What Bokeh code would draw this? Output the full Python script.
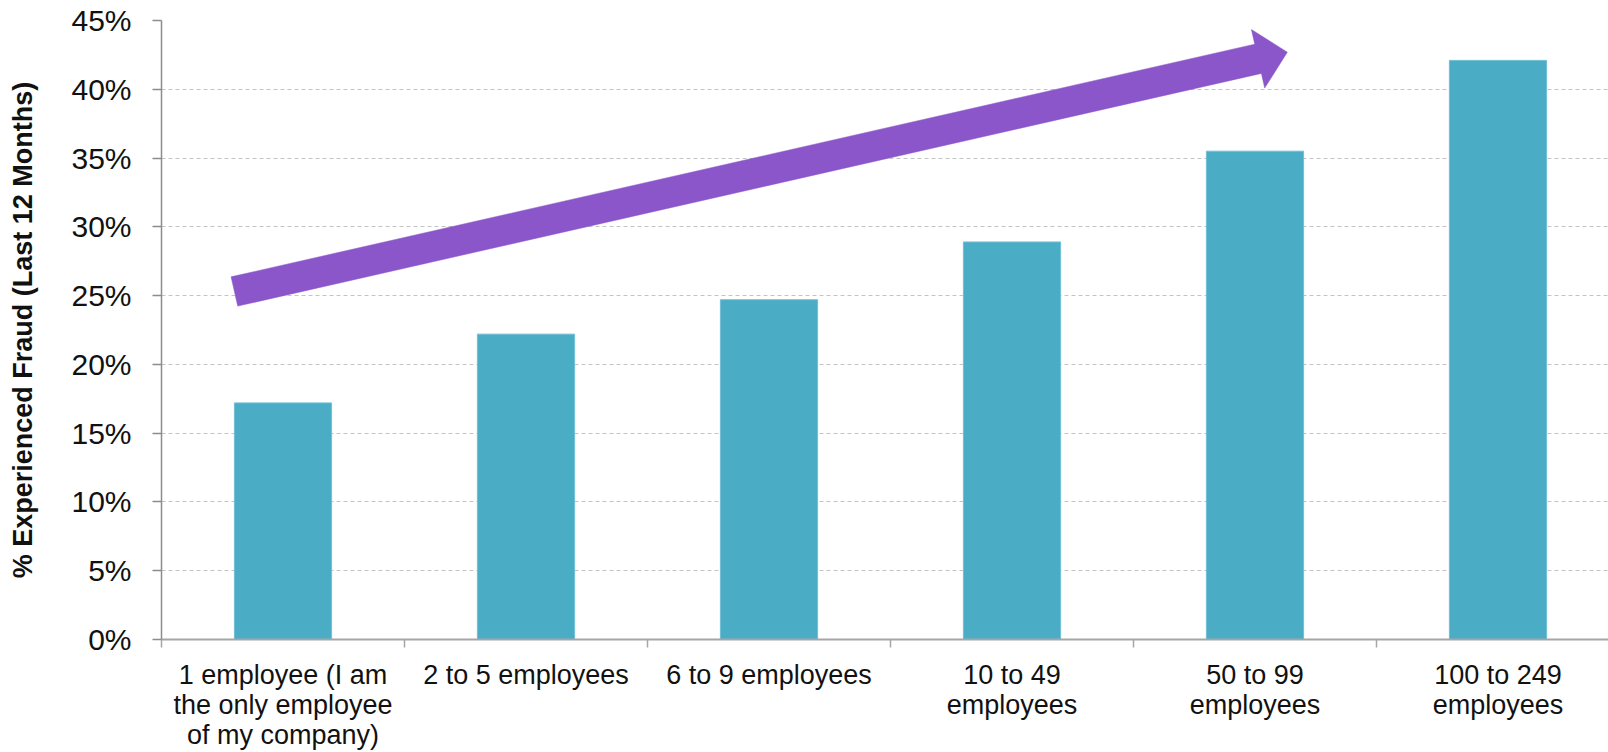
from bokeh.plotting import figure
from bokeh.models import Range1d, FixedTicker
from bokeh.embed import file_html
from bokeh.resources import INLINE
import math

# ---- data ----
categories = [
    "1 employee (I am\nthe only employee\nof my company)",
    "2 to 5 employees",
    "6 to 9 employees",
    "10 to 49\nemployees",
    "50 to 99\nemployees",
    "100 to 249\nemployees",
]
fraud_pct = [17.2, 22.2, 24.7, 28.9, 35.5, 42.1]
y_ticks = [0, 5, 10, 15, 20, 25, 30, 35, 40, 45]
y_title = "% Experienced Fraud (Last 12 Months)"

# trend arrow (data units: category index, percent)
arrow_tail = (0.30, 25.3)
arrow_tip = (4.633, 42.7)

# ---- layout ----
W, H = 1608, 752
LEFT, RIGHT, TOP, BOTTOM = 161, 0, 20, 113
FRAME_W = W - LEFT - RIGHT
FRAME_H = H - TOP - BOTTOM
CAT_PX = 243.0
X_END = FRAME_W / CAT_PX
Y_MAX = 45

FONT = "Liberation Sans"
TEXT_COLOR = "#111111"

p = figure(width=W, height=H, output_backend="svg", toolbar_location=None,
           x_range=Range1d(0, X_END), y_range=Range1d(0, Y_MAX),
           min_border_left=LEFT, min_border_right=RIGHT,
           min_border_top=TOP, min_border_bottom=BOTTOM)
p.outline_line_color = None
p.background_fill_color = "white"
p.border_fill_color = "white"

centers = [i + 0.5 for i in range(len(categories))]
p.vbar(x=centers, top=fraud_pct, width=0.4, bottom=0,
       fill_color="#4BACC6", line_color="#6FBFD5", line_width=1)

# arrow polygon
sx = FRAME_W / X_END
sy = FRAME_H / Y_MAX
tx, ty = arrow_tail[0] * sx, arrow_tail[1] * sy
hx, hy = arrow_tip[0] * sx, arrow_tip[1] * sy
L = math.hypot(hx - tx, hy - ty)
ux, uy = (hx - tx) / L, (hy - ty) / L
nx, ny = -uy, ux
hw, HW, HL = 15.0, 30.0, 30.0
bx, by = hx - ux * HL, hy - uy * HL
pts = [
    (tx + nx * hw, ty + ny * hw),
    (bx + nx * hw, by + ny * hw),
    (bx + nx * HW, by + ny * HW),
    (hx, hy),
    (bx - nx * HW, by - ny * HW),
    (bx - nx * hw, by - ny * hw),
    (tx - nx * hw, ty - ny * hw),
]
p.patch([q[0] / sx for q in pts], [q[1] / sy for q in pts],
        fill_color="#8A56CA", line_color="#8A56CA", line_width=0.5)

# grid
p.xgrid.visible = False
p.ygrid.ticker = FixedTicker(ticks=y_ticks)
p.ygrid.grid_line_color = "#C4C4C4"
p.ygrid.grid_line_dash = "4 3"
p.ygrid.grid_line_width = 1

# y axis
p.yaxis.ticker = FixedTicker(ticks=y_ticks)
p.yaxis.major_label_overrides = {t: f"{t}%" for t in y_ticks}
p.yaxis.major_label_text_font = FONT
p.yaxis.major_label_text_font_size = "30px"
p.yaxis.major_label_text_color = TEXT_COLOR
p.yaxis.major_label_standoff = 21
p.yaxis.major_tick_out = 9
p.yaxis.major_tick_in = 0
p.yaxis.minor_tick_out = 0
p.yaxis.minor_tick_in = 0
p.yaxis.axis_line_color = "#8C8C8C"
p.yaxis.axis_line_width = 1.5
p.yaxis.major_tick_line_color = "#8C8C8C"
p.yaxis.major_tick_line_width = 1.5
p.yaxis.axis_label = y_title
p.yaxis.axis_label_text_font = FONT
p.yaxis.axis_label_text_font_style = "bold"
p.yaxis.axis_label_text_font_size = "27px"
p.yaxis.axis_label_text_color = TEXT_COLOR
p.yaxis.axis_label_standoff = 30

# x axis: labels at category centres, tick marks at category boundaries
p.xaxis.ticker = FixedTicker(ticks=centers, minor_ticks=list(range(len(categories) + 1)))
p.xaxis.major_label_overrides = {c: lab for c, lab in zip(centers, categories)}
p.xaxis.major_label_text_font = FONT
p.xaxis.major_label_text_font_size = "27px"
p.xaxis.major_label_text_color = TEXT_COLOR
p.xaxis.major_label_text_line_height = 1.0
p.xaxis.major_label_standoff = 12
p.xaxis.major_tick_out = 0
p.xaxis.major_tick_in = 0
p.xaxis.minor_tick_out = 8
p.xaxis.minor_tick_in = 0
p.xaxis.minor_tick_line_color = "#A6A6A6"
p.xaxis.minor_tick_line_width = 1.5
p.xaxis.axis_line_color = "#A6A6A6"
p.xaxis.axis_line_width = 2

open("out.html", "w").write(file_html(p, INLINE))
